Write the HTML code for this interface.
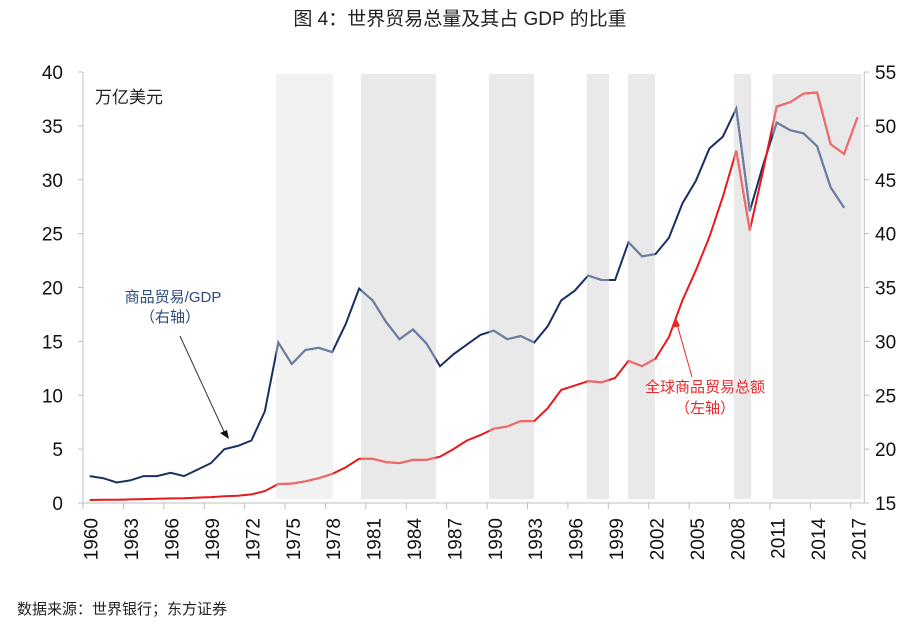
<!DOCTYPE html>
<html><head><meta charset="utf-8"><style>
body{margin:0;background:#fff;width:921px;height:627px;overflow:hidden;font-family:"Liberation Sans","Noto Sans CJK SC",sans-serif}
svg{position:absolute;left:0;top:0}
</style></head><body>
<svg id="chart" width="921" height="627" xmlns="http://www.w3.org/2000/svg" font-family="Liberation Sans, Noto Sans CJK SC, sans-serif">
<text x="460" y="25" text-anchor="middle" font-size="19" fill="#222">图 4：世界贸易总量及其占 GDP 的比重</text>
<g id="bands"></g><g id="grid"></g><g id="lines"></g>
<text x="95" y="103" font-size="17" fill="#222">万亿美元</text>
<text x="173" y="302" text-anchor="middle" font-size="15" fill="#2e4a7d">商品贸易/GDP</text>
<text x="170" y="322" text-anchor="middle" font-size="15" fill="#2e4a7d">（右轴）</text>
<line x1="180" y1="336" x2="226" y2="436" stroke="#333" stroke-width="1"/>
<polygon points="229,439 220,433 227,430" fill="#111"/>
<text x="705" y="392" text-anchor="middle" font-size="15" fill="#e8282b">全球商品贸易总额</text>
<text x="705" y="413" text-anchor="middle" font-size="15" fill="#e8282b">（左轴）</text>
<line x1="692" y1="377" x2="677" y2="324" stroke="#e8282b" stroke-width="1"/>
<polygon points="676,318 672,328 680,326" fill="#e8282b"/>
<text x="17" y="614" font-size="15" fill="#222">数据来源：世界银行；东方证券</text>
</svg>
<script>
const years=[];for(let y=1960;y<=2017;y++)years.push(y);
const tradeTotal=[0.28,0.3,0.3,0.33,0.36,0.4,0.43,0.45,0.5,0.55,0.62,0.68,0.8,1.1,1.76,1.8,2.0,2.3,2.7,3.3,4.1,4.1,3.8,3.7,4.0,4.0,4.3,5.0,5.8,6.3,6.9,7.1,7.6,7.6,8.8,10.5,10.9,11.3,11.2,11.6,13.2,12.7,13.4,15.4,18.8,21.6,24.7,28.4,32.7,25.3,30.9,36.8,37.2,38.0,38.1,33.3,32.4,35.8];
const gdpRatio=[17.5,17.3,16.9,17.1,17.5,17.5,17.8,17.5,18.1,18.7,20.0,20.3,20.8,23.5,29.9,27.9,29.2,29.4,29.0,31.6,34.9,33.8,31.8,30.2,31.1,29.8,27.7,28.8,29.7,30.6,31.0,30.2,30.5,29.9,31.4,33.8,34.7,36.1,35.7,35.7,39.2,37.9,38.1,39.6,42.8,44.9,47.9,49.0,51.6,42.1,46.4,50.3,49.6,49.3,48.1,44.3,42.4];
const bandStarts=[1974.33,1980.64,1990.14,1997.4,2000.46,2008.33,2011.2];
const bandEnds=[1978.56,1986.2,1993.48,1999.05,2002.46,2009.6,2017.8];
const leftTicks=[0,5,10,15,20,25,30,35,40];
const rightTicks=[15,20,25,30,35,40,45,50,55];
const NS='http://www.w3.org/2000/svg';
const X0=83,STEP=13.47,Y0=503,Y1=72;
const xs=y=>X0+(y-1960+0.5)*STEP;
const xe=y=>X0+(y-1960)*STEP;
const yl=v=>Y0-(v/40)*(Y0-Y1);
const yr=v=>Y0-((v-15)/40)*(Y0-Y1);
function mk(t,a,p){const e=document.createElementNS(NS,t);for(const k in a)e.setAttribute(k,a[k]);p.appendChild(e);return e;}
const bands=document.getElementById('bands'),grid=document.getElementById('grid'),lines=document.getElementById('lines');
const defs=mk('defs',{},lines);const cp=mk('clipPath',{id:'bclip'},defs);
bandStarts.forEach((s,i)=>{
  const r=mk('rect',{x:xe(s),y:74,width:xe(bandEnds[i])-xe(s),height:425,fill:i==0?'#f2f2f2':'#e9e9e9'},bands);
  
  
  mk('rect',{x:xe(s),y:0,width:xe(bandEnds[i])-xe(s),height:627},cp);
});
const ax=mk('line',{x1:X0,y1:Y0,x2:xe(2018),y2:Y0,stroke:'#bfbfbf'},grid);

const la=mk('line',{x1:X0,y1:Y1,x2:X0,y2:Y0,stroke:'#bfbfbf'},grid);

const ra=mk('line',{x1:xe(2018),y1:Y1,x2:xe(2018),y2:Y0,stroke:'#bfbfbf'},grid);

leftTicks.forEach(v=>{mk('line',{x1:X0-5,y1:yl(v),x2:X0,y2:yl(v),stroke:'#bfbfbf'},grid);
  const t=mk('text',{x:63,y:yl(v)+7,'text-anchor':'end','font-size':19,fill:'#111'},grid);t.textContent=v;
  });
rightTicks.forEach(v=>{mk('line',{x1:xe(2018),y1:yr(v),x2:xe(2018)+5,y2:yr(v),stroke:'#bfbfbf'},grid);
  const t=mk('text',{x:875,y:yr(v)+7,'font-size':19,fill:'#111'},grid);t.textContent=v;
  });
years.forEach(y=>{if((y-1960)%3==0){mk('line',{x1:xe(y),y1:Y0,x2:xe(y),y2:Y0+6,stroke:'#bfbfbf'},grid);
  const cx=xs(y)+1;const t=mk('text',{x:cx,y:518,transform:`rotate(-90 ${cx} 518)`,'text-anchor':'end','font-size':19,fill:'#111',dy:7},grid);
  t.textContent=y;}});
function pts(arr,f){return arr.map((v,i)=>xs(years[i]).toFixed(1)+','+f(v).toFixed(1)).join(' ');}
const l1=mk('polyline',{points:pts(gdpRatio,yr),fill:'none',stroke:'#1b2f63','stroke-width':2},lines);

const l1b=mk('polyline',{points:pts(gdpRatio,yr),fill:'none',stroke:'#6c7fa3','stroke-width':2,'clip-path':'url(#bclip)'},lines);

const l2=mk('polyline',{points:pts(tradeTotal,yl),fill:'none',stroke:'#e8191c','stroke-width':2},lines);

const l2b=mk('polyline',{points:pts(tradeTotal,yl),fill:'none',stroke:'#ef6a6a','stroke-width':2,'clip-path':'url(#bclip)'},lines);

</script>
</body></html>
